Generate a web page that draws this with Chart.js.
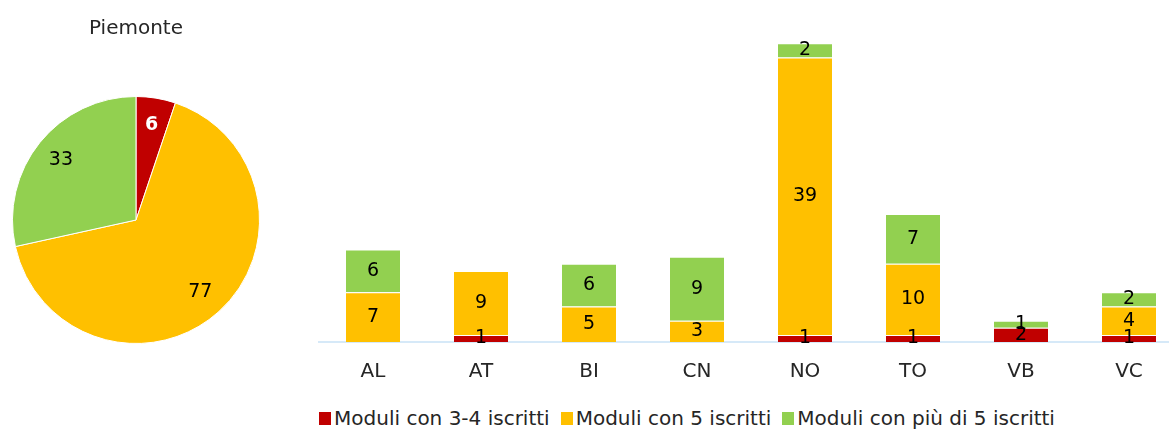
<!DOCTYPE html>
<html>
<head>
<meta charset="utf-8">
<script src="https://cdn.jsdelivr.net/npm/chart.js@4"></script>
<style>
  body { margin: 0; width: 1169px; height: 430px; overflow: hidden; background: #fff; font-family: "DejaVu Sans", sans-serif; }
  #pieBox { position: absolute; left: 0; top: 0; width: 272px; height: 360px; }
  #barBox { position: absolute; left: 300px; top: 0; width: 900px; height: 394px; }
  #legend { position: absolute; left: 0; top: 406px; width: 1374px; display: flex; justify-content: center; gap: 11px; font-size: 20px; color: #262626; }
  #legend span.item { display: flex; align-items: center; }
  #legend span.box { display: inline-block; width: 12px; height: 13px; margin-right: 3px; }
</style>
</head>
<body>
<div id="pieBox"><canvas id="pie"></canvas></div>
<div id="barBox"><canvas id="bar"></canvas></div>
<div id="legend"></div>
<script>
// Dati
const province = ['AL', 'AT', 'BI', 'CN', 'NO', 'TO', 'VB', 'VC'];
const serie = ['Moduli con 3-4 iscritti', 'Moduli con 5 iscritti', 'Moduli con più di 5 iscritti'];
const moduli34 = [0, 1, 0, 0, 1, 1, 2, 1];
const moduli5 = [7, 9, 5, 3, 39, 10, 0, 4];
const moduliPiu5 = [6, 0, 6, 9, 2, 7, 1, 2];
const totaliPiemonte = [6, 77, 33];
const colori = ['#C00000', '#FFC000', '#92D050'];

const fontFamily = '"DejaVu Sans", sans-serif';

// Plugin semplice per le etichette dei valori
const etichette = {
    id: 'etichette',
    afterDatasetsDraw(chart) {
        const ctx = chart.ctx;
        const isPie = chart.config.type === 'pie';
        chart.data.datasets.forEach((ds, i) => {
            const meta = chart.getDatasetMeta(i);
            meta.data.forEach((el, j) => {
                const v = ds.data[j];
                if (!v) return;
                let x, y;
                ctx.save();
                if (isPie) {
                    const mid = (el.startAngle + el.endAngle) / 2;
                    const r = el.outerRadius * 0.78;
                    x = el.x + Math.cos(mid) * r;
                    y = el.y + Math.sin(mid) * r;
                    ctx.font = (j === 0 ? 'bold ' : '') + '19px ' + fontFamily;
                    ctx.fillStyle = j === 0 ? '#ffffff' : '#000000';
                } else {
                    x = el.x;
                    y = (el.y + el.base) / 2;
                    ctx.font = '19px ' + fontFamily;
                    ctx.fillStyle = '#000000';
                }
                ctx.textAlign = 'center';
                ctx.textBaseline = 'middle';
                ctx.fillText(String(v), x, y);
                ctx.restore();
            });
        });
    }
};

// Grafico a torta
new Chart(document.getElementById('pie'), {
    type: 'pie',
    data: {
        labels: serie,
        datasets: [{
            data: totaliPiemonte,
            backgroundColor: colori,
            borderColor: '#ffffff',
            borderWidth: 1
        }]
    },
    options: {
        responsive: true,
        maintainAspectRatio: false,
        animation: false,
        layout: { padding: { left: 12, right: 12, bottom: 16 } },
        plugins: {
            legend: { display: false },
            tooltip: { enabled: false },
            title: {
                display: true,
                text: 'Piemonte',
                color: '#262626',
                font: { family: fontFamily, size: 20, weight: 'normal' },
                padding: { top: 17, bottom: 55 }
            }
        }
    },
    plugins: [etichette]
});

// Grafico a barre impilate
new Chart(document.getElementById('bar'), {
    type: 'bar',
    data: {
        labels: province,
        datasets: [moduli34, moduli5, moduliPiu5].map((d, i) => ({
            label: serie[i],
            data: d,
            backgroundColor: colori[i],
            borderColor: '#ffffff',
            borderWidth: { top: 1, left: 0, right: 0, bottom: 0 },
            categoryPercentage: 1,
            barPercentage: 0.5
        }))
    },
    options: {
        responsive: true,
        maintainAspectRatio: false,
        animation: false,
        layout: { padding: { left: 19, right: 17, top: 22 } },
        plugins: {
            legend: { display: false },
            tooltip: { enabled: false }
        },
        scales: {
            x: {
                stacked: true,
                grid: { display: false },
                border: { color: '#D6E9F8', width: 2 },
                ticks: { color: '#262626', padding: 10, font: { family: fontFamily, size: 20 } }
            },
            y: {
                stacked: true,
                display: false,
                min: 0,
                max: 45
            }
        }
    },
    plugins: [etichette]
});

// Legenda
const legenda = document.getElementById('legend');
serie.forEach((s, i) => {
    const item = document.createElement('span');
    item.className = 'item';
    item.innerHTML = '<span class="box" style="background:' + colori[i] + '"></span>' + s;
    legenda.appendChild(item);
});
</script>
</body>
</html>
